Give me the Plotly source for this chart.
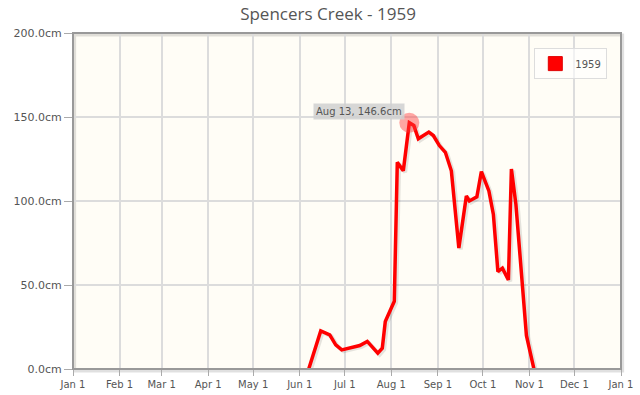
import plotly.graph_objects as go
import pandas as pd

dates = ["1959-06-07", "1959-06-15", "1959-06-21", "1959-06-25", "1959-06-29",
         "1959-07-11", "1959-07-16", "1959-07-20", "1959-07-23", "1959-07-26",
         "1959-07-28", "1959-08-01", "1959-08-03", "1959-08-05", "1959-08-09",
         "1959-08-13", "1959-08-16", "1959-08-19", "1959-08-26", "1959-08-29",
         "1959-09-02", "1959-09-06", "1959-09-10", "1959-09-15", "1959-09-20",
         "1959-09-22", "1959-09-27", "1959-09-30", "1959-10-05", "1959-10-08",
         "1959-10-11", "1959-10-14", "1959-10-18", "1959-10-20", "1959-10-23",
         "1959-10-30", "1959-11-04"]
depth_cm = [0.0, 22.7, 20.3, 14.4, 11.4,
            14.0, 16.4, 12.4, 9.4, 12.4,
            28.3, 36.3, 40.3, 123.0, 118.0,
            146.6, 145.0, 137.0, 141.0, 139.0,
            133.0, 129.0, 118.0, 72.0, 103.0,
            100.0, 102.5, 117.5, 106.0, 92.0,
            58.0, 60.0, 53.0, 119.0, 98.0,
            20.0, 0.0]
series_name = "1959"
title_text = "Spencers Creek - 1959"
highlight_date = "1959-08-13"
highlight_value = 146.6
highlight_label = "Aug 13, 146.6cm"
y_ticks = [0, 50, 100, 150, 200]

x = pd.to_datetime(dates)
gray = "#555555"

fig = go.Figure()
# shadow of the line
fig.add_trace(go.Scatter(
    x=x + pd.Timedelta(hours=30), y=[v - 0.9 for v in depth_cm], mode="lines",
    line=dict(color="rgba(0,0,0,0.10)", width=4), hoverinfo="skip", showlegend=False))
fig.add_trace(go.Scatter(
    x=x, y=depth_cm, mode="lines", name=series_name,
    line=dict(color="#ff0000", width=3.5), showlegend=False))
fig.add_trace(go.Scatter(
    x=[pd.Timestamp(highlight_date)], y=[highlight_value], mode="markers",
    marker=dict(color="rgba(255,60,60,0.45)", size=20, line=dict(width=0)),
    hoverinfo="skip", showlegend=False))
# legend entry
fig.add_trace(go.Scatter(
    x=[None], y=[None], mode="markers", name=series_name,
    marker=dict(symbol="square", color="#ff0000", size=14,
                line=dict(color="#e00000", width=1))))

fig.add_annotation(
    x=pd.Timestamp(highlight_date), y=highlight_value, text=highlight_label,
    showarrow=False, xanchor="right", yanchor="bottom", xshift=-4, yshift=3,
    bgcolor="rgba(208,208,208,0.85)", font=dict(size=10, color=gray, family="DejaVu Sans"),
    borderpad=2)

# frame shadow
fig.add_shape(type="rect", xref="paper", yref="paper", x0=0.003, x1=1.003, y0=-0.006, y1=0.994,
              line=dict(color="rgba(0,0,0,0.12)", width=3), layer="below")
fig.add_shape(type="rect", xref="paper", yref="paper", x0=0, x1=1, y0=0, y1=1,
              line=dict(color="#999999", width=2), layer="above")

fig.update_layout(
    width=640, height=395,
    margin=dict(l=73, r=19, t=33, b=26, autoexpand=False),
    paper_bgcolor="#ffffff", plot_bgcolor="#fffdf6",
    title=dict(text=title_text, x=0.5125, xanchor="center", y=0.9646, yanchor="middle",
               font=dict(size=17, color=gray, family="Open Sans"), automargin=False),
    font=dict(family="DejaVu Sans", size=10, color=gray),
    legend=dict(x=0.975, y=0.955, xanchor="right", yanchor="top",
                bgcolor="rgba(255,255,255,0.6)", bordercolor="#dddddd", borderwidth=1,
                font=dict(size=10, color=gray), itemwidth=30),
    hovermode=False,
)
fig.update_xaxes(
    type="date", range=["1959-01-01", "1960-01-01"], dtick="M1", tick0="1959-01-01",
    tickformat="%b %-d", showgrid=True, gridcolor="#dcdcdc", gridwidth=1.5,
    ticks="outside", ticklen=6, tickcolor="#aaaaaa", zeroline=False, showline=False,
    tickfont=dict(size=10, color=gray), automargin=False)
fig.update_yaxes(
    range=[0, 200], tickvals=y_ticks, ticktext=[f"{v:.1f}cm" for v in y_ticks],
    showgrid=True, gridcolor="#dcdcdc", gridwidth=1.5,
    ticks="outside", ticklen=8, tickcolor="#aaaaaa", zeroline=False, showline=False,
    tickfont=dict(size=11, color=gray), automargin=False)

fig.write_html("out.html", config={"displayModeBar": False},
               post_script="document.body.style.margin='0';document.body.style.overflow='hidden';")
